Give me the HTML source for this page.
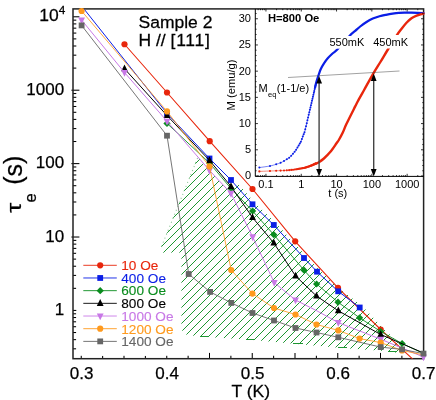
<!DOCTYPE html>
<html><head><meta charset="utf-8"><title>chart</title>
<style>html,body{margin:0;padding:0;background:#fff;}body{width:436px;height:400px;position:relative;overflow:hidden;font-family:"Liberation Sans",sans-serif;}</style></head>
<body>
<svg width="436" height="400" viewBox="0 0 436 400" style="position:absolute;left:0;top:0;will-change:transform;font-family:'Liberation Sans',sans-serif">
<rect x="0" y="0" width="436" height="400" fill="#fff"/>
<defs>
<clipPath id="pc"><rect x="73.0" y="8.9" width="350.6" height="349.8"/></clipPath>
</defs>
<line x1="73.0" y1="348.81" x2="76.3" y2="348.81" stroke="#000" stroke-width="1.05"/>
<line x1="73.0" y1="339.64" x2="76.3" y2="339.64" stroke="#000" stroke-width="1.05"/>
<line x1="73.0" y1="332.53" x2="76.3" y2="332.53" stroke="#000" stroke-width="1.05"/>
<line x1="73.0" y1="326.72" x2="76.3" y2="326.72" stroke="#000" stroke-width="1.05"/>
<line x1="73.0" y1="321.80" x2="76.3" y2="321.80" stroke="#000" stroke-width="1.05"/>
<line x1="73.0" y1="317.54" x2="76.3" y2="317.54" stroke="#000" stroke-width="1.05"/>
<line x1="73.0" y1="313.79" x2="76.3" y2="313.79" stroke="#000" stroke-width="1.05"/>
<line x1="73.0" y1="310.43" x2="79.4" y2="310.43" stroke="#000" stroke-width="1.05"/>
<line x1="73.0" y1="288.33" x2="76.3" y2="288.33" stroke="#000" stroke-width="1.05"/>
<line x1="73.0" y1="275.40" x2="76.3" y2="275.40" stroke="#000" stroke-width="1.05"/>
<line x1="73.0" y1="266.23" x2="76.3" y2="266.23" stroke="#000" stroke-width="1.05"/>
<line x1="73.0" y1="259.12" x2="76.3" y2="259.12" stroke="#000" stroke-width="1.05"/>
<line x1="73.0" y1="253.31" x2="76.3" y2="253.31" stroke="#000" stroke-width="1.05"/>
<line x1="73.0" y1="248.39" x2="76.3" y2="248.39" stroke="#000" stroke-width="1.05"/>
<line x1="73.0" y1="244.13" x2="76.3" y2="244.13" stroke="#000" stroke-width="1.05"/>
<line x1="73.0" y1="240.38" x2="76.3" y2="240.38" stroke="#000" stroke-width="1.05"/>
<line x1="71.4" y1="237.02" x2="79.4" y2="237.02" stroke="#000" stroke-width="1.05"/>
<line x1="73.0" y1="214.92" x2="76.3" y2="214.92" stroke="#000" stroke-width="1.05"/>
<line x1="73.0" y1="201.99" x2="76.3" y2="201.99" stroke="#000" stroke-width="1.05"/>
<line x1="73.0" y1="192.82" x2="76.3" y2="192.82" stroke="#000" stroke-width="1.05"/>
<line x1="73.0" y1="185.71" x2="76.3" y2="185.71" stroke="#000" stroke-width="1.05"/>
<line x1="73.0" y1="179.90" x2="76.3" y2="179.90" stroke="#000" stroke-width="1.05"/>
<line x1="73.0" y1="174.98" x2="76.3" y2="174.98" stroke="#000" stroke-width="1.05"/>
<line x1="73.0" y1="170.72" x2="76.3" y2="170.72" stroke="#000" stroke-width="1.05"/>
<line x1="73.0" y1="166.97" x2="76.3" y2="166.97" stroke="#000" stroke-width="1.05"/>
<line x1="71.4" y1="163.61" x2="79.4" y2="163.61" stroke="#000" stroke-width="1.05"/>
<line x1="73.0" y1="141.51" x2="76.3" y2="141.51" stroke="#000" stroke-width="1.05"/>
<line x1="73.0" y1="128.58" x2="76.3" y2="128.58" stroke="#000" stroke-width="1.05"/>
<line x1="73.0" y1="119.41" x2="76.3" y2="119.41" stroke="#000" stroke-width="1.05"/>
<line x1="73.0" y1="112.30" x2="76.3" y2="112.30" stroke="#000" stroke-width="1.05"/>
<line x1="73.0" y1="106.49" x2="76.3" y2="106.49" stroke="#000" stroke-width="1.05"/>
<line x1="73.0" y1="101.57" x2="76.3" y2="101.57" stroke="#000" stroke-width="1.05"/>
<line x1="73.0" y1="97.31" x2="76.3" y2="97.31" stroke="#000" stroke-width="1.05"/>
<line x1="73.0" y1="93.56" x2="76.3" y2="93.56" stroke="#000" stroke-width="1.05"/>
<line x1="71.4" y1="90.20" x2="79.4" y2="90.20" stroke="#000" stroke-width="1.05"/>
<line x1="73.0" y1="68.10" x2="76.3" y2="68.10" stroke="#000" stroke-width="1.05"/>
<line x1="73.0" y1="55.17" x2="76.3" y2="55.17" stroke="#000" stroke-width="1.05"/>
<line x1="73.0" y1="46.00" x2="76.3" y2="46.00" stroke="#000" stroke-width="1.05"/>
<line x1="73.0" y1="38.89" x2="76.3" y2="38.89" stroke="#000" stroke-width="1.05"/>
<line x1="73.0" y1="33.08" x2="76.3" y2="33.08" stroke="#000" stroke-width="1.05"/>
<line x1="73.0" y1="28.16" x2="76.3" y2="28.16" stroke="#000" stroke-width="1.05"/>
<line x1="73.0" y1="23.90" x2="76.3" y2="23.90" stroke="#000" stroke-width="1.05"/>
<line x1="73.0" y1="20.15" x2="76.3" y2="20.15" stroke="#000" stroke-width="1.05"/>
<line x1="73.0" y1="16.79" x2="79.4" y2="16.79" stroke="#000" stroke-width="1.05"/>
<line x1="81.25" y1="358.7" x2="81.25" y2="352.9" stroke="#000" stroke-width="1.05"/>
<line x1="102.63" y1="358.7" x2="102.63" y2="355.7" stroke="#000" stroke-width="1.05"/>
<line x1="124.00" y1="358.7" x2="124.00" y2="352.9" stroke="#000" stroke-width="1.05"/>
<line x1="145.38" y1="358.7" x2="145.38" y2="355.7" stroke="#000" stroke-width="1.05"/>
<line x1="166.75" y1="358.7" x2="166.75" y2="352.9" stroke="#000" stroke-width="1.05"/>
<line x1="188.12" y1="358.7" x2="188.12" y2="355.7" stroke="#000" stroke-width="1.05"/>
<line x1="209.50" y1="358.7" x2="209.50" y2="352.9" stroke="#000" stroke-width="1.05"/>
<line x1="230.88" y1="358.7" x2="230.88" y2="355.7" stroke="#000" stroke-width="1.05"/>
<line x1="252.25" y1="358.7" x2="252.25" y2="352.9" stroke="#000" stroke-width="1.05"/>
<line x1="273.62" y1="358.7" x2="273.62" y2="355.7" stroke="#000" stroke-width="1.05"/>
<line x1="295.00" y1="358.7" x2="295.00" y2="352.9" stroke="#000" stroke-width="1.05"/>
<line x1="316.38" y1="358.7" x2="316.38" y2="355.7" stroke="#000" stroke-width="1.05"/>
<line x1="337.75" y1="358.7" x2="337.75" y2="352.9" stroke="#000" stroke-width="1.05"/>
<line x1="359.12" y1="358.7" x2="359.12" y2="355.7" stroke="#000" stroke-width="1.05"/>
<line x1="380.50" y1="358.7" x2="380.50" y2="352.9" stroke="#000" stroke-width="1.05"/>
<line x1="401.88" y1="358.7" x2="401.88" y2="355.7" stroke="#000" stroke-width="1.05"/>
<line x1="423.25" y1="358.7" x2="423.25" y2="352.9" stroke="#000" stroke-width="1.05"/>
<rect x="73.0" y="8.9" width="350.6" height="349.8" fill="none" stroke="#222" stroke-width="1.5"/>
<clipPath id="hc1"><polygon points="198,157 158,255 163,300 181.9,330 186,334.5 199,336.4 250,339.7 297,344 342,348.1 392,351.5 397,353 402.5,347.3 382.7,327.5 361.7,305.5 340.2,289.3 319,269.7 306,256 275.8,223 254.5,202.3 236.5,182 231,193.4 209.5,170.4"/></clipPath>
<path clip-path="url(#hc1)" d="M-316,400 L84,0 M-308,400 L92,0 M-300,400 L100,0 M-292,400 L108,0 M-284,400 L116,0 M-276,400 L124,0 M-268,400 L132,0 M-260,400 L140,0 M-252,400 L148,0 M-244,400 L156,0 M-235,400 L165,0 M-227,400 L173,0 M-219,400 L181,0 M-211,400 L189,0 M-203,400 L197,0 M-195,400 L205,0 M-187,400 L213,0 M-179,400 L221,0 M-171,400 L229,0 M-163,400 L237,0 M-154,400 L246,0 M-146,400 L254,0 M-138,400 L262,0 M-130,400 L270,0 M-122,400 L278,0 M-114,400 L286,0 M-106,400 L294,0 M-98,400 L302,0 M-90,400 L310,0 M-81,400 L319,0 M-73,400 L327,0 M-65,400 L335,0 M-57,400 L343,0 M-49,400 L351,0 M-41,400 L359,0 M-33,400 L367,0 M-25,400 L375,0 M-17,400 L383,0 M-9,400 L391,0 M0,400 L400,0 M8,400 L408,0 M16,400 L416,0 M24,400 L424,0 M32,400 L432,0 M40,400 L440,0 M48,400 L448,0 M56,400 L456,0 M64,400 L464,0 M72,400 L472,0 M81,400 L481,0 M89,400 L489,0 M97,400 L497,0 M105,400 L505,0 M113,400 L513,0 M121,400 L521,0 M129,400 L529,0 M137,400 L537,0 M145,400 L545,0 M153,400 L553,0 M162,400 L562,0 M170,400 L570,0 M178,400 L578,0 M186,400 L586,0 M194,400 L594,0 M202,400 L602,0 M210,400 L610,0 M218,400 L618,0 M226,400 L626,0 M234,400 L634,0 M243,400 L643,0 M251,400 L651,0 M259,400 L659,0 M267,400 L667,0 M275,400 L675,0 M283,400 L683,0 M291,400 L691,0 M299,400 L699,0 M307,400 L707,0 M315,400 L715,0 M324,400 L724,0 M332,400 L732,0 M340,400 L740,0 M348,400 L748,0 M356,400 L756,0 M364,400 L764,0 M372,400 L772,0 M380,400 L780,0 M388,400 L788,0 M396,400 L796,0 M405,400 L805,0 M413,400 L813,0 M421,400 L821,0 M429,400 L829,0 M437,400 L837,0 M445,400 L845,0 M453,400 L853,0 M461,400 L861,0 M469,400 L869,0 M477,400 L877,0 M486,400 L886,0" stroke="#1e9632" stroke-width="1" fill="none" shape-rendering="crispEdges"/>
<path d="M197.6,158 L160.5,249" stroke="#1e9632" stroke-width="1.1" stroke-dasharray="1.1 3.2" opacity="0.5" fill="none"/>
<path d="M199.5,336.5 h9.5 M245.5,339.5 h9.5 M292.5,343.5 h10.5 M337.5,347.5 h9.5 M387.5,351.5 h9.5" stroke="#1e9632" stroke-width="1" fill="none" shape-rendering="crispEdges"/>
<rect x="76.3" y="252.6" width="105.1" height="103.2" fill="#fff"/>
<polyline clip-path="url(#pc)" fill="none" stroke="#e8260c" stroke-width="1.1" stroke-linejoin="round" points="124.50,44.25 167.00,92.50 209.70,141.20 252.50,189.00 295.20,241.30 338.00,287.80 380.70,329.50 412.20,358.60 420.00,366.00"/>
<circle cx="124.50" cy="44.25" r="3.1" fill="#e8260c"/>
<circle cx="167.00" cy="92.50" r="3.1" fill="#e8260c"/>
<circle cx="209.70" cy="141.20" r="3.1" fill="#e8260c"/>
<circle cx="252.50" cy="189.00" r="3.1" fill="#e8260c"/>
<circle cx="295.20" cy="241.30" r="3.1" fill="#e8260c"/>
<circle cx="338.00" cy="287.80" r="3.1" fill="#e8260c"/>
<circle cx="380.70" cy="329.50" r="3.1" fill="#e8260c"/>
<polyline clip-path="url(#pc)" fill="none" stroke="#0a1ee6" stroke-width="1.0" stroke-linejoin="round" points="81.25,5.50 167.00,113.40 209.50,158.50 231.00,180.00 252.50,204.30 273.80,225.00 304.00,258.00 317.00,271.70 338.20,291.30 359.70,307.50"/>
<rect x="164.10" y="110.50" width="5.8" height="5.8" fill="#0a1ee6"/>
<rect x="206.60" y="155.60" width="5.8" height="5.8" fill="#0a1ee6"/>
<rect x="228.10" y="177.10" width="5.8" height="5.8" fill="#0a1ee6"/>
<rect x="249.60" y="201.40" width="5.8" height="5.8" fill="#0a1ee6"/>
<rect x="270.90" y="222.10" width="5.8" height="5.8" fill="#0a1ee6"/>
<rect x="301.10" y="255.10" width="5.8" height="5.8" fill="#0a1ee6"/>
<rect x="314.10" y="268.80" width="5.8" height="5.8" fill="#0a1ee6"/>
<rect x="335.30" y="288.40" width="5.8" height="5.8" fill="#0a1ee6"/>
<rect x="356.80" y="304.60" width="5.8" height="5.8" fill="#0a1ee6"/>
<polyline clip-path="url(#pc)" fill="none" stroke="#0a8c1e" stroke-width="0.9" stroke-linejoin="round" points="167.00,123.40 209.50,163.00 231.00,188.50 252.60,211.00 273.80,234.70 304.00,270.20 316.60,284.00 338.00,302.20 359.60,317.80 380.70,331.50 402.10,343.50 423.50,353.50"/>
<polygon points="167.00,119.80 170.60,123.40 167.00,127.00 163.40,123.40" fill="#0a8c1e"/>
<polygon points="209.50,159.40 213.10,163.00 209.50,166.60 205.90,163.00" fill="#0a8c1e"/>
<polygon points="231.00,184.90 234.60,188.50 231.00,192.10 227.40,188.50" fill="#0a8c1e"/>
<polygon points="252.60,207.40 256.20,211.00 252.60,214.60 249.00,211.00" fill="#0a8c1e"/>
<polygon points="273.80,231.10 277.40,234.70 273.80,238.30 270.20,234.70" fill="#0a8c1e"/>
<polygon points="304.00,266.60 307.60,270.20 304.00,273.80 300.40,270.20" fill="#0a8c1e"/>
<polygon points="316.60,280.40 320.20,284.00 316.60,287.60 313.00,284.00" fill="#0a8c1e"/>
<polygon points="338.00,298.60 341.60,302.20 338.00,305.80 334.40,302.20" fill="#0a8c1e"/>
<polygon points="359.60,314.20 363.20,317.80 359.60,321.40 356.00,317.80" fill="#0a8c1e"/>
<polygon points="380.70,327.90 384.30,331.50 380.70,335.10 377.10,331.50" fill="#0a8c1e"/>
<polygon points="402.10,339.90 405.70,343.50 402.10,347.10 398.50,343.50" fill="#0a8c1e"/>
<polyline clip-path="url(#pc)" fill="none" stroke="#000" stroke-width="1.0" stroke-linejoin="round" points="124.50,68.75 167.00,115.50 209.50,160.40 231.00,186.40 252.50,217.50 273.80,243.00 295.60,276.00 316.50,296.00 338.30,310.80 380.70,334.50 423.50,353.00"/>
<polygon points="124.50,64.50 127.90,71.30 121.10,71.30" fill="#000"/>
<polygon points="167.00,111.25 170.40,118.05 163.60,118.05" fill="#000"/>
<polygon points="209.50,156.15 212.90,162.95 206.10,162.95" fill="#000"/>
<polygon points="231.00,182.15 234.40,188.95 227.60,188.95" fill="#000"/>
<polygon points="252.50,213.25 255.90,220.05 249.10,220.05" fill="#000"/>
<polygon points="273.80,238.75 277.20,245.55 270.40,245.55" fill="#000"/>
<polygon points="295.60,271.75 299.00,278.55 292.20,278.55" fill="#000"/>
<polygon points="316.50,291.75 319.90,298.55 313.10,298.55" fill="#000"/>
<polygon points="338.30,306.55 341.70,313.35 334.90,313.35" fill="#000"/>
<polygon points="380.70,330.25 384.10,337.05 377.30,337.05" fill="#000"/>
<polyline clip-path="url(#pc)" fill="none" stroke="#c878e6" stroke-width="1.0" stroke-linejoin="round" points="81.60,20.00 124.50,72.50 167.00,121.20 209.50,170.40 231.00,193.40 252.70,236.90 274.25,282.60 295.50,300.00 316.75,310.75 338.30,322.60 380.70,339.20 423.50,357.00"/>
<polygon points="81.60,24.25 85.00,17.45 78.20,17.45" fill="#c878e6"/>
<polygon points="124.50,76.75 127.90,69.95 121.10,69.95" fill="#c878e6"/>
<polygon points="167.00,125.45 170.40,118.65 163.60,118.65" fill="#c878e6"/>
<polygon points="209.50,174.65 212.90,167.85 206.10,167.85" fill="#c878e6"/>
<polygon points="231.00,197.65 234.40,190.85 227.60,190.85" fill="#c878e6"/>
<polygon points="252.70,241.15 256.10,234.35 249.30,234.35" fill="#c878e6"/>
<polygon points="274.25,286.85 277.65,280.05 270.85,280.05" fill="#c878e6"/>
<polygon points="295.50,304.25 298.90,297.45 292.10,297.45" fill="#c878e6"/>
<polygon points="338.30,326.85 341.70,320.05 334.90,320.05" fill="#c878e6"/>
<polygon points="380.70,343.45 384.10,336.65 377.30,336.65" fill="#c878e6"/>
<polygon points="423.50,361.25 426.90,354.45 420.10,354.45" fill="#c878e6"/>
<polyline clip-path="url(#pc)" fill="none" stroke="#ff9a1e" stroke-width="0.85" stroke-linejoin="round" points="81.60,11.00 167.00,111.40 209.50,166.40 231.20,270.00 252.40,293.60 274.00,308.00 295.50,314.50 316.50,324.50 338.30,330.40 359.60,338.60 380.70,342.60 402.00,350.40 423.50,355.00"/>
<circle cx="81.60" cy="11.00" r="3.1" fill="#ff9a1e"/>
<circle cx="167.00" cy="111.40" r="3.1" fill="#ff9a1e"/>
<circle cx="209.50" cy="166.40" r="3.1" fill="#ff9a1e"/>
<circle cx="231.20" cy="270.00" r="3.1" fill="#ff9a1e"/>
<circle cx="252.40" cy="293.60" r="3.1" fill="#ff9a1e"/>
<circle cx="274.00" cy="308.00" r="3.1" fill="#ff9a1e"/>
<circle cx="295.50" cy="314.50" r="3.1" fill="#ff9a1e"/>
<circle cx="316.50" cy="324.50" r="3.1" fill="#ff9a1e"/>
<circle cx="338.30" cy="330.40" r="3.1" fill="#ff9a1e"/>
<circle cx="359.60" cy="338.60" r="3.1" fill="#ff9a1e"/>
<circle cx="380.70" cy="342.60" r="3.1" fill="#ff9a1e"/>
<circle cx="402.00" cy="350.40" r="3.1" fill="#ff9a1e"/>
<polyline clip-path="url(#pc)" fill="none" stroke="#666" stroke-width="0.9" stroke-linejoin="round" points="81.60,25.40 167.00,135.70 188.70,274.00 210.10,291.90 231.30,302.90 252.50,313.00 274.00,320.50 295.50,328.00 316.50,332.50 338.30,337.30 380.70,347.10 402.10,349.40 423.50,353.60"/>
<rect x="78.70" y="22.50" width="5.8" height="5.8" fill="#666"/>
<rect x="164.10" y="132.80" width="5.8" height="5.8" fill="#666"/>
<rect x="185.80" y="271.10" width="5.8" height="5.8" fill="#666"/>
<rect x="207.20" y="289.00" width="5.8" height="5.8" fill="#666"/>
<rect x="228.40" y="300.00" width="5.8" height="5.8" fill="#666"/>
<rect x="249.60" y="310.10" width="5.8" height="5.8" fill="#666"/>
<rect x="271.10" y="317.60" width="5.8" height="5.8" fill="#666"/>
<rect x="292.60" y="325.10" width="5.8" height="5.8" fill="#666"/>
<rect x="313.60" y="329.60" width="5.8" height="5.8" fill="#666"/>
<rect x="335.40" y="334.40" width="5.8" height="5.8" fill="#666"/>
<rect x="377.80" y="344.20" width="5.8" height="5.8" fill="#666"/>
<rect x="399.20" y="346.50" width="5.8" height="5.8" fill="#666"/>
<rect x="420.60" y="350.70" width="5.8" height="5.8" fill="#666"/>
<path d="M259.20,167.60 C260.98,167.33 267.08,166.55 269.90,166.00 C272.72,165.45 274.32,164.83 276.10,164.30 C277.88,163.77 279.28,163.37 280.60,162.80 C281.92,162.23 283.02,161.47 284.00,160.90 C284.98,160.33 285.65,159.92 286.50,159.40 C287.35,158.88 288.32,158.38 289.10,157.80 C289.88,157.22 290.58,156.53 291.20,155.90 C291.82,155.27 292.22,154.70 292.80,154.00 C293.38,153.30 294.12,152.43 294.70,151.70 C295.28,150.97 295.25,151.32 296.30,149.60 C297.35,147.88 299.90,143.62 301.00,141.40 C302.10,139.18 302.27,137.98 302.90,136.30 C303.53,134.62 303.80,135.02 304.80,131.30 C305.80,127.58 307.28,120.88 308.90,114.00 C310.52,107.12 313.25,95.38 314.50,90.00 C315.75,84.62 315.70,84.25 316.40,81.70 C317.10,79.15 317.97,76.82 318.70,74.70 C319.43,72.58 319.92,70.88 320.80,69.00 C321.68,67.12 322.84,65.18 324.00,63.40 C325.16,61.62 326.28,59.98 327.75,58.30 C329.22,56.62 331.12,54.83 332.80,53.30 C334.48,51.77 335.02,52.00 337.80,49.10 C340.58,46.20 346.60,38.93 349.50,35.90 C352.40,32.87 353.42,32.47 355.20,30.90 C356.98,29.33 358.32,27.98 360.20,26.50 C362.08,25.02 364.40,23.32 366.50,22.00 C368.60,20.68 370.63,19.55 372.80,18.60 C374.97,17.65 377.30,16.93 379.50,16.30 C381.70,15.67 383.82,15.25 386.00,14.80 C388.18,14.35 390.45,13.93 392.60,13.60 C394.75,13.27 396.80,12.97 398.90,12.80 C401.00,12.63 403.10,12.63 405.20,12.60 C407.30,12.57 409.40,12.57 411.50,12.60 C413.60,12.63 415.80,12.72 417.80,12.80 C419.80,12.88 422.55,13.05 423.50,13.10" fill="none" stroke="#0a1ee6" stroke-width="0.55"/>
<path d="M315.11,87.33 C315.33,86.39 315.80,83.80 316.40,81.70 C317.00,79.60 317.97,76.82 318.70,74.70 C319.43,72.58 319.92,70.88 320.80,69.00 C321.68,67.12 322.84,65.18 324.00,63.40 C325.16,61.62 326.28,59.98 327.75,58.30 C329.22,56.62 331.12,54.83 332.80,53.30 C334.48,51.77 335.02,52.00 337.80,49.10 C340.58,46.20 346.60,38.93 349.50,35.90 C352.40,32.87 353.42,32.47 355.20,30.90 C356.98,29.33 358.32,27.98 360.20,26.50 C362.08,25.02 364.40,23.32 366.50,22.00 C368.60,20.68 370.63,19.55 372.80,18.60 C374.97,17.65 377.30,16.93 379.50,16.30 C381.70,15.67 383.82,15.25 386.00,14.80 C388.18,14.35 390.45,13.93 392.60,13.60 C394.75,13.27 396.80,12.97 398.90,12.80 C401.00,12.63 403.10,12.63 405.20,12.60 C407.30,12.57 409.40,12.57 411.50,12.60 C413.60,12.63 415.80,12.72 417.80,12.80 C419.80,12.88 422.55,13.05 423.50,13.10" fill="none" stroke="#0a1ee6" stroke-width="2.2" stroke-linecap="round"/>
<circle cx="259.35" cy="167.58" r="1.00" fill="#0a1ee6"/>
<circle cx="269.97" cy="165.98" r="1.00" fill="#0a1ee6"/>
<circle cx="276.19" cy="164.27" r="1.00" fill="#0a1ee6"/>
<circle cx="280.60" cy="162.80" r="1.00" fill="#0a1ee6"/>
<circle cx="284.02" cy="160.89" r="1.00" fill="#0a1ee6"/>
<circle cx="286.81" cy="159.21" r="1.00" fill="#0a1ee6"/>
<circle cx="289.18" cy="157.73" r="1.00" fill="#0a1ee6"/>
<circle cx="291.22" cy="155.87" r="1.00" fill="#0a1ee6"/>
<circle cx="293.03" cy="153.72" r="1.00" fill="#0a1ee6"/>
<circle cx="294.65" cy="151.77" r="1.00" fill="#0a1ee6"/>
<circle cx="296.11" cy="149.85" r="1.00" fill="#0a1ee6"/>
<circle cx="297.44" cy="147.61" r="1.00" fill="#0a1ee6"/>
<circle cx="298.67" cy="145.47" r="1.00" fill="#0a1ee6"/>
<circle cx="299.80" cy="143.49" r="1.00" fill="#0a1ee6"/>
<circle cx="300.86" cy="141.64" r="1.00" fill="#0a1ee6"/>
<circle cx="301.85" cy="139.11" r="1.00" fill="#0a1ee6"/>
<circle cx="302.78" cy="136.62" r="1.00" fill="#0a1ee6"/>
<circle cx="303.66" cy="134.31" r="1.00" fill="#0a1ee6"/>
<circle cx="304.49" cy="132.13" r="1.00" fill="#0a1ee6"/>
<circle cx="305.27" cy="129.31" r="1.00" fill="#0a1ee6"/>
<circle cx="306.02" cy="126.15" r="1.00" fill="#0a1ee6"/>
<circle cx="306.73" cy="123.14" r="1.00" fill="#0a1ee6"/>
<circle cx="307.41" cy="120.27" r="1.00" fill="#0a1ee6"/>
<circle cx="308.07" cy="117.51" r="1.00" fill="#0a1ee6"/>
<circle cx="308.69" cy="114.87" r="1.00" fill="#0a1ee6"/>
<circle cx="309.29" cy="112.31" r="1.00" fill="#0a1ee6"/>
<circle cx="309.87" cy="109.83" r="1.00" fill="#0a1ee6"/>
<circle cx="310.43" cy="107.44" r="1.00" fill="#0a1ee6"/>
<circle cx="310.97" cy="105.14" r="1.00" fill="#0a1ee6"/>
<circle cx="311.49" cy="102.91" r="1.00" fill="#0a1ee6"/>
<circle cx="311.99" cy="100.75" r="1.00" fill="#0a1ee6"/>
<circle cx="312.48" cy="98.67" r="1.00" fill="#0a1ee6"/>
<circle cx="312.95" cy="96.65" r="1.00" fill="#0a1ee6"/>
<circle cx="313.41" cy="94.68" r="1.00" fill="#0a1ee6"/>
<circle cx="313.85" cy="92.78" r="1.00" fill="#0a1ee6"/>
<circle cx="314.28" cy="90.93" r="1.00" fill="#0a1ee6"/>
<circle cx="314.70" cy="89.11" r="1.00" fill="#0a1ee6"/>
<circle cx="315.11" cy="87.33" r="1.00" fill="#0a1ee6"/>
<circle cx="315.51" cy="85.59" r="1.00" fill="#0a1ee6"/>
<circle cx="315.90" cy="83.89" r="1.00" fill="#0a1ee6"/>
<path d="M259.20,171.40 C260.98,171.33 265.35,171.17 269.90,171.00 C274.45,170.83 282.68,170.60 286.50,170.40 C290.32,170.20 290.68,170.07 292.80,169.80 C294.92,169.53 297.12,169.15 299.20,168.80 C301.28,168.45 303.28,168.23 305.30,167.70 C307.32,167.17 309.03,166.52 311.30,165.60 C313.57,164.68 316.80,163.38 318.90,162.20 C321.00,161.02 322.02,160.18 323.90,158.50 C325.78,156.82 328.10,154.63 330.20,152.10 C332.30,149.57 335.07,145.32 336.50,143.30 C337.93,141.28 337.75,141.78 338.80,140.00 C339.85,138.22 341.53,135.25 342.80,132.60 C344.07,129.95 344.33,128.47 346.40,124.10 C348.47,119.73 353.22,110.35 355.20,106.40 C357.18,102.45 356.82,103.13 358.30,100.40 C359.78,97.67 361.58,94.50 364.10,90.00 C366.62,85.50 370.68,78.07 373.40,73.40 C376.12,68.73 377.98,65.98 380.40,62.00 C382.82,58.02 385.23,53.85 387.90,49.50 C390.57,45.15 394.15,39.32 396.40,35.90 C398.65,32.48 399.72,31.20 401.40,29.00 C403.08,26.80 404.82,24.48 406.50,22.70 C408.18,20.92 409.82,19.47 411.50,18.30 C413.18,17.13 414.92,16.40 416.60,15.70 C418.28,15.00 420.45,14.45 421.60,14.10 C422.75,13.75 423.18,13.68 423.50,13.60" fill="none" stroke="#e8260c" stroke-width="0.55"/>
<path d="M315.11,163.89 C315.74,163.61 317.44,163.10 318.90,162.20 C320.36,161.30 322.02,160.18 323.90,158.50 C325.78,156.82 328.10,154.63 330.20,152.10 C332.30,149.57 335.07,145.32 336.50,143.30 C337.93,141.28 337.75,141.78 338.80,140.00 C339.85,138.22 341.53,135.25 342.80,132.60 C344.07,129.95 344.33,128.47 346.40,124.10 C348.47,119.73 353.22,110.35 355.20,106.40 C357.18,102.45 356.82,103.13 358.30,100.40 C359.78,97.67 361.58,94.50 364.10,90.00 C366.62,85.50 370.68,78.07 373.40,73.40 C376.12,68.73 377.98,65.98 380.40,62.00 C382.82,58.02 385.23,53.85 387.90,49.50 C390.57,45.15 394.15,39.32 396.40,35.90 C398.65,32.48 399.72,31.20 401.40,29.00 C403.08,26.80 404.82,24.48 406.50,22.70 C408.18,20.92 409.82,19.47 411.50,18.30 C413.18,17.13 414.92,16.40 416.60,15.70 C418.28,15.00 420.45,14.45 421.60,14.10 C422.75,13.75 423.18,13.68 423.50,13.60" fill="none" stroke="#e8260c" stroke-width="2.4" stroke-linecap="round"/>
<circle cx="259.35" cy="171.39" r="1.10" fill="#e8260c"/>
<circle cx="269.97" cy="171.00" r="1.10" fill="#e8260c"/>
<circle cx="276.19" cy="170.77" r="1.10" fill="#e8260c"/>
<circle cx="280.60" cy="170.61" r="1.10" fill="#e8260c"/>
<circle cx="284.02" cy="170.49" r="1.10" fill="#e8260c"/>
<circle cx="286.81" cy="170.37" r="1.10" fill="#e8260c"/>
<circle cx="289.18" cy="170.14" r="1.10" fill="#e8260c"/>
<circle cx="291.22" cy="169.95" r="1.10" fill="#e8260c"/>
<circle cx="293.03" cy="169.76" r="1.10" fill="#e8260c"/>
<circle cx="294.65" cy="169.51" r="1.10" fill="#e8260c"/>
<circle cx="296.11" cy="169.28" r="1.10" fill="#e8260c"/>
<circle cx="297.44" cy="169.07" r="1.10" fill="#e8260c"/>
<circle cx="298.67" cy="168.88" r="1.10" fill="#e8260c"/>
<circle cx="299.80" cy="168.69" r="1.10" fill="#e8260c"/>
<circle cx="300.86" cy="168.50" r="1.10" fill="#e8260c"/>
<circle cx="301.85" cy="168.32" r="1.10" fill="#e8260c"/>
<circle cx="302.78" cy="168.15" r="1.10" fill="#e8260c"/>
<circle cx="303.66" cy="168.00" r="1.10" fill="#e8260c"/>
<circle cx="304.49" cy="167.85" r="1.10" fill="#e8260c"/>
<circle cx="305.27" cy="167.71" r="1.10" fill="#e8260c"/>
<circle cx="306.02" cy="167.45" r="1.10" fill="#e8260c"/>
<circle cx="306.73" cy="167.20" r="1.10" fill="#e8260c"/>
<circle cx="307.41" cy="166.96" r="1.10" fill="#e8260c"/>
<circle cx="308.07" cy="166.73" r="1.10" fill="#e8260c"/>
<circle cx="308.69" cy="166.51" r="1.10" fill="#e8260c"/>
<circle cx="309.29" cy="166.30" r="1.10" fill="#e8260c"/>
<circle cx="309.87" cy="166.10" r="1.10" fill="#e8260c"/>
<circle cx="310.43" cy="165.90" r="1.10" fill="#e8260c"/>
<circle cx="310.97" cy="165.72" r="1.10" fill="#e8260c"/>
<circle cx="311.49" cy="165.52" r="1.10" fill="#e8260c"/>
<circle cx="311.99" cy="165.29" r="1.10" fill="#e8260c"/>
<circle cx="312.48" cy="165.07" r="1.10" fill="#e8260c"/>
<circle cx="312.95" cy="164.86" r="1.10" fill="#e8260c"/>
<circle cx="313.41" cy="164.66" r="1.10" fill="#e8260c"/>
<circle cx="313.85" cy="164.46" r="1.10" fill="#e8260c"/>
<circle cx="314.28" cy="164.27" r="1.10" fill="#e8260c"/>
<circle cx="314.70" cy="164.08" r="1.10" fill="#e8260c"/>
<circle cx="315.11" cy="163.89" r="1.10" fill="#e8260c"/>
<circle cx="315.51" cy="163.72" r="1.10" fill="#e8260c"/>
<circle cx="315.90" cy="163.54" r="1.10" fill="#e8260c"/>
<path d="M255.3,8.9 V176.4 H423.6" fill="none" stroke="#000" stroke-width="1"/>
<path d="M255.3,176.00 h2.6 M423.6,176.00 h-2.6" stroke="#000" stroke-width="0.8"/>
<path d="M255.3,170.76 h1.3 M423.6,170.76 h-1.3" stroke="#000" stroke-width="0.8"/>
<path d="M255.3,165.52 h1.3 M423.6,165.52 h-1.3" stroke="#000" stroke-width="0.8"/>
<path d="M255.3,160.27 h1.3 M423.6,160.27 h-1.3" stroke="#000" stroke-width="0.8"/>
<path d="M255.3,155.03 h1.3 M423.6,155.03 h-1.3" stroke="#000" stroke-width="0.8"/>
<path d="M255.3,149.79 h2.6 M423.6,149.79 h-2.6" stroke="#000" stroke-width="0.8"/>
<path d="M255.3,144.55 h1.3 M423.6,144.55 h-1.3" stroke="#000" stroke-width="0.8"/>
<path d="M255.3,139.31 h1.3 M423.6,139.31 h-1.3" stroke="#000" stroke-width="0.8"/>
<path d="M255.3,134.07 h1.3 M423.6,134.07 h-1.3" stroke="#000" stroke-width="0.8"/>
<path d="M255.3,128.82 h1.3 M423.6,128.82 h-1.3" stroke="#000" stroke-width="0.8"/>
<path d="M255.3,123.58 h2.6 M423.6,123.58 h-2.6" stroke="#000" stroke-width="0.8"/>
<path d="M255.3,118.34 h1.3 M423.6,118.34 h-1.3" stroke="#000" stroke-width="0.8"/>
<path d="M255.3,113.10 h1.3 M423.6,113.10 h-1.3" stroke="#000" stroke-width="0.8"/>
<path d="M255.3,107.86 h1.3 M423.6,107.86 h-1.3" stroke="#000" stroke-width="0.8"/>
<path d="M255.3,102.62 h1.3 M423.6,102.62 h-1.3" stroke="#000" stroke-width="0.8"/>
<path d="M255.3,97.37 h2.6 M423.6,97.37 h-2.6" stroke="#000" stroke-width="0.8"/>
<path d="M255.3,92.13 h1.3 M423.6,92.13 h-1.3" stroke="#000" stroke-width="0.8"/>
<path d="M255.3,86.89 h1.3 M423.6,86.89 h-1.3" stroke="#000" stroke-width="0.8"/>
<path d="M255.3,81.65 h1.3 M423.6,81.65 h-1.3" stroke="#000" stroke-width="0.8"/>
<path d="M255.3,76.41 h1.3 M423.6,76.41 h-1.3" stroke="#000" stroke-width="0.8"/>
<path d="M255.3,71.17 h2.6 M423.6,71.17 h-2.6" stroke="#000" stroke-width="0.8"/>
<path d="M255.3,65.92 h1.3 M423.6,65.92 h-1.3" stroke="#000" stroke-width="0.8"/>
<path d="M255.3,60.68 h1.3 M423.6,60.68 h-1.3" stroke="#000" stroke-width="0.8"/>
<path d="M255.3,55.44 h1.3 M423.6,55.44 h-1.3" stroke="#000" stroke-width="0.8"/>
<path d="M255.3,50.20 h1.3 M423.6,50.20 h-1.3" stroke="#000" stroke-width="0.8"/>
<path d="M255.3,44.96 h2.6 M423.6,44.96 h-2.6" stroke="#000" stroke-width="0.8"/>
<path d="M255.3,39.72 h1.3 M423.6,39.72 h-1.3" stroke="#000" stroke-width="0.8"/>
<path d="M255.3,34.47 h1.3 M423.6,34.47 h-1.3" stroke="#000" stroke-width="0.8"/>
<path d="M255.3,29.23 h1.3 M423.6,29.23 h-1.3" stroke="#000" stroke-width="0.8"/>
<path d="M255.3,23.99 h1.3 M423.6,23.99 h-1.3" stroke="#000" stroke-width="0.8"/>
<path d="M255.3,18.75 h2.6 M423.6,18.75 h-2.6" stroke="#000" stroke-width="0.8"/>
<path d="M255.3,13.51 h1.3 M423.6,13.51 h-1.3" stroke="#000" stroke-width="0.8"/>
<path d="M258.12,176.4 v-1.3 M258.12,8.9 v1.3" stroke="#000" stroke-width="0.8"/>
<path d="M260.48,176.4 v-1.3 M260.48,8.9 v1.3" stroke="#000" stroke-width="0.8"/>
<path d="M262.53,176.4 v-1.3 M262.53,8.9 v1.3" stroke="#000" stroke-width="0.8"/>
<path d="M264.33,176.4 v-1.3 M264.33,8.9 v1.3" stroke="#000" stroke-width="0.8"/>
<path d="M265.95,176.4 v-2.6 M265.95,8.9 v2.6" stroke="#000" stroke-width="0.8"/>
<path d="M276.58,176.4 v-1.3 M276.58,8.9 v1.3" stroke="#000" stroke-width="0.8"/>
<path d="M282.79,176.4 v-1.3 M282.79,8.9 v1.3" stroke="#000" stroke-width="0.8"/>
<path d="M287.20,176.4 v-1.3 M287.20,8.9 v1.3" stroke="#000" stroke-width="0.8"/>
<path d="M290.62,176.4 v-1.3 M290.62,8.9 v1.3" stroke="#000" stroke-width="0.8"/>
<path d="M293.42,176.4 v-1.3 M293.42,8.9 v1.3" stroke="#000" stroke-width="0.8"/>
<path d="M295.78,176.4 v-1.3 M295.78,8.9 v1.3" stroke="#000" stroke-width="0.8"/>
<path d="M297.83,176.4 v-1.3 M297.83,8.9 v1.3" stroke="#000" stroke-width="0.8"/>
<path d="M299.63,176.4 v-1.3 M299.63,8.9 v1.3" stroke="#000" stroke-width="0.8"/>
<path d="M301.25,176.4 v-2.6 M301.25,8.9 v2.6" stroke="#000" stroke-width="0.8"/>
<path d="M311.88,176.4 v-1.3 M311.88,8.9 v1.3" stroke="#000" stroke-width="0.8"/>
<path d="M318.09,176.4 v-1.3 M318.09,8.9 v1.3" stroke="#000" stroke-width="0.8"/>
<path d="M322.50,176.4 v-1.3 M322.50,8.9 v1.3" stroke="#000" stroke-width="0.8"/>
<path d="M325.92,176.4 v-1.3 M325.92,8.9 v1.3" stroke="#000" stroke-width="0.8"/>
<path d="M328.72,176.4 v-1.3 M328.72,8.9 v1.3" stroke="#000" stroke-width="0.8"/>
<path d="M331.08,176.4 v-1.3 M331.08,8.9 v1.3" stroke="#000" stroke-width="0.8"/>
<path d="M333.13,176.4 v-1.3 M333.13,8.9 v1.3" stroke="#000" stroke-width="0.8"/>
<path d="M334.93,176.4 v-1.3 M334.93,8.9 v1.3" stroke="#000" stroke-width="0.8"/>
<path d="M336.55,176.4 v-2.6 M336.55,8.9 v2.6" stroke="#000" stroke-width="0.8"/>
<path d="M347.18,176.4 v-1.3 M347.18,8.9 v1.3" stroke="#000" stroke-width="0.8"/>
<path d="M353.39,176.4 v-1.3 M353.39,8.9 v1.3" stroke="#000" stroke-width="0.8"/>
<path d="M357.80,176.4 v-1.3 M357.80,8.9 v1.3" stroke="#000" stroke-width="0.8"/>
<path d="M361.22,176.4 v-1.3 M361.22,8.9 v1.3" stroke="#000" stroke-width="0.8"/>
<path d="M364.02,176.4 v-1.3 M364.02,8.9 v1.3" stroke="#000" stroke-width="0.8"/>
<path d="M366.38,176.4 v-1.3 M366.38,8.9 v1.3" stroke="#000" stroke-width="0.8"/>
<path d="M368.43,176.4 v-1.3 M368.43,8.9 v1.3" stroke="#000" stroke-width="0.8"/>
<path d="M370.23,176.4 v-1.3 M370.23,8.9 v1.3" stroke="#000" stroke-width="0.8"/>
<path d="M371.85,176.4 v-2.6 M371.85,8.9 v2.6" stroke="#000" stroke-width="0.8"/>
<path d="M382.48,176.4 v-1.3 M382.48,8.9 v1.3" stroke="#000" stroke-width="0.8"/>
<path d="M388.69,176.4 v-1.3 M388.69,8.9 v1.3" stroke="#000" stroke-width="0.8"/>
<path d="M393.10,176.4 v-1.3 M393.10,8.9 v1.3" stroke="#000" stroke-width="0.8"/>
<path d="M396.52,176.4 v-1.3 M396.52,8.9 v1.3" stroke="#000" stroke-width="0.8"/>
<path d="M399.32,176.4 v-1.3 M399.32,8.9 v1.3" stroke="#000" stroke-width="0.8"/>
<path d="M401.68,176.4 v-1.3 M401.68,8.9 v1.3" stroke="#000" stroke-width="0.8"/>
<path d="M403.73,176.4 v-1.3 M403.73,8.9 v1.3" stroke="#000" stroke-width="0.8"/>
<path d="M405.53,176.4 v-1.3 M405.53,8.9 v1.3" stroke="#000" stroke-width="0.8"/>
<path d="M407.15,176.4 v-2.6 M407.15,8.9 v2.6" stroke="#000" stroke-width="0.8"/>
<path d="M417.78,176.4 v-1.3 M417.78,8.9 v1.3" stroke="#000" stroke-width="0.8"/>
<text x="251" y="179.40" font-size="11" text-anchor="end">0</text>
<text x="251" y="153.19" font-size="11" text-anchor="end">5</text>
<text x="251" y="126.98" font-size="11" text-anchor="end">10</text>
<text x="251" y="100.77" font-size="11" text-anchor="end">15</text>
<text x="251" y="74.57" font-size="11" text-anchor="end">20</text>
<text x="251" y="48.36" font-size="11" text-anchor="end">25</text>
<text x="251" y="22.15" font-size="11" text-anchor="end">30</text>
<text x="265.95" y="187.7" font-size="11" text-anchor="middle">0.1</text>
<text x="301.25" y="187.7" font-size="11" text-anchor="middle">1</text>
<text x="336.55" y="187.7" font-size="11" text-anchor="middle">10</text>
<text x="371.85" y="187.7" font-size="11" text-anchor="middle">100</text>
<text x="407.15" y="187.7" font-size="11" text-anchor="middle">1000</text>
<text x="337.8" y="196.8" font-size="11" text-anchor="middle">t (s)</text>
<text transform="translate(234.9,85.0) rotate(-90)" font-size="11.2" text-anchor="middle">M (emu/g)</text>
<text x="268" y="21.8" font-size="11.2" font-weight="bold">H=800 Oe</text>
<rect x="328.5" y="36" width="37" height="12.7" fill="#fff"/><text x="329.4" y="45.5" font-size="11">550mK</text>
<rect x="372.5" y="35" width="37" height="13.5" fill="#fff"/><text x="373.25" y="45.5" font-size="11">450mK</text>
<text x="258.4" y="91.6" font-size="11">M<tspan font-size="7.5" dy="5.2" dx="0.5">eq</tspan><tspan dy="-5.2" dx="0.3">(1-1/e)</tspan></text>
<line x1="288" y1="77.5" x2="399.5" y2="71" stroke="#444" stroke-width="0.5"/>
<line x1="319.1" y1="78.9" x2="319.1" y2="173.4" stroke="#444" stroke-width="1.4"/>
<polygon points="319.1,75.9 322.0,83.4 316.20000000000005,83.4" fill="#000"/>
<polygon points="319.1,176.4 322.0,168.9 316.20000000000005,168.9" fill="#000"/>
<line x1="373.7" y1="76.6" x2="373.7" y2="173.4" stroke="#444" stroke-width="1.4"/>
<polygon points="373.7,73.6 376.59999999999997,81.1 370.8,81.1" fill="#000"/>
<polygon points="373.7,176.4 376.59999999999997,168.9 370.8,168.9" fill="#000"/>
<text transform="translate(64.20,94.80)" font-size="17" text-anchor="end" fill="#000" stroke="#000" stroke-width="0.25">1000</text>
<text transform="translate(64.20,168.21)" font-size="17" text-anchor="end" fill="#000" stroke="#000" stroke-width="0.25">100</text>
<text transform="translate(64.20,241.62)" font-size="17" text-anchor="end" fill="#000" stroke="#000" stroke-width="0.25">10</text>
<text transform="translate(64.20,315.03)" font-size="17" text-anchor="end" fill="#000" stroke="#000" stroke-width="0.25">1</text>
<text transform="translate(39.20,21.20) scale(1.03,1)" font-size="17" text-anchor="start" fill="#000" stroke="#000" stroke-width="0.25">10<tspan font-size="11.5" dy="-7.6">4</tspan></text>
<text transform="translate(81.55,379.30)" font-size="17" text-anchor="middle" fill="#000" stroke="#000" stroke-width="0.25">0.3</text>
<text transform="translate(167.05,379.30)" font-size="17" text-anchor="middle" fill="#000" stroke="#000" stroke-width="0.25">0.4</text>
<text transform="translate(252.55,379.30)" font-size="17" text-anchor="middle" fill="#000" stroke="#000" stroke-width="0.25">0.5</text>
<text transform="translate(338.05,379.30)" font-size="17" text-anchor="middle" fill="#000" stroke="#000" stroke-width="0.25">0.6</text>
<text transform="translate(423.55,379.30)" font-size="17" text-anchor="middle" fill="#000" stroke="#000" stroke-width="0.25">0.7</text>
<text transform="translate(250.80,396.50) scale(1.03,1)" font-size="17" text-anchor="middle" fill="#000" stroke="#000" stroke-width="0.25">T (K)</text>
<text transform="translate(21.30,212.80) rotate(-90) scale(1.3,1)" font-size="19.5" text-anchor="start" fill="#000" stroke="#000" stroke-width="0.25">τ</text>
<text transform="translate(36.10,202.60) rotate(-90)" font-size="16.5" text-anchor="start" fill="#000" stroke="#000" stroke-width="0.25">e</text>
<text transform="translate(22.20,184.80) rotate(-90)" font-size="25" text-anchor="start" fill="#000" stroke="#000" stroke-width="0.25">(s)</text>
<text transform="translate(138.50,28.00) scale(1.03,1)" font-size="17" text-anchor="start" fill="#000" stroke="#000" stroke-width="0.25">Sample 2</text>
<text transform="translate(138.50,46.20) scale(1.03,1)" font-size="17" text-anchor="start" fill="#000" stroke="#000" stroke-width="0.25">H // <tspan letter-spacing="0.7">[111]</tspan></text>
<line x1="83.3" y1="265.30" x2="116.8" y2="265.30" stroke="#e8260c" stroke-width="0.9"/>
<circle cx="100.20" cy="265.30" r="3.1" fill="#e8260c"/>
<text transform="translate(121.30,270.10) scale(1.01,1)" font-size="13.5" text-anchor="start" fill="#e8260c" stroke="#e8260c" stroke-width="0.12">10 Oe</text>
<line x1="83.3" y1="277.98" x2="116.8" y2="277.98" stroke="#0a1ee6" stroke-width="0.9"/>
<rect x="97.30" y="275.08" width="5.8" height="5.8" fill="#0a1ee6"/>
<text transform="translate(121.30,282.78) scale(1.01,1)" font-size="13.5" text-anchor="start" fill="#0a1ee6" stroke="#0a1ee6" stroke-width="0.12">400 Oe</text>
<line x1="83.3" y1="290.66" x2="116.8" y2="290.66" stroke="#0a8c1e" stroke-width="0.9"/>
<polygon points="100.20,287.06 103.80,290.66 100.20,294.26 96.60,290.66" fill="#0a8c1e"/>
<text transform="translate(121.30,295.46) scale(1.01,1)" font-size="13.5" text-anchor="start" fill="#0a8c1e" stroke="#0a8c1e" stroke-width="0.12">600 Oe</text>
<line x1="83.3" y1="303.34" x2="116.8" y2="303.34" stroke="#000" stroke-width="0.9"/>
<polygon points="100.20,299.09 103.60,305.89 96.80,305.89" fill="#000"/>
<text transform="translate(121.30,308.14) scale(1.01,1)" font-size="13.5" text-anchor="start" fill="#000" stroke="#000" stroke-width="0.12">800 Oe</text>
<line x1="83.3" y1="316.02" x2="116.8" y2="316.02" stroke="#c878e6" stroke-width="0.9"/>
<polygon points="100.20,320.27 103.60,313.47 96.80,313.47" fill="#c878e6"/>
<text transform="translate(121.30,320.82) scale(1.01,1)" font-size="13.5" text-anchor="start" fill="#c878e6" stroke="#c878e6" stroke-width="0.12">1000 Oe</text>
<line x1="83.3" y1="328.70" x2="116.8" y2="328.70" stroke="#ff9a1e" stroke-width="0.9"/>
<circle cx="100.20" cy="328.70" r="3.1" fill="#ff9a1e"/>
<text transform="translate(121.30,333.50) scale(1.01,1)" font-size="13.5" text-anchor="start" fill="#ff9a1e" stroke="#ff9a1e" stroke-width="0.12">1200 Oe</text>
<line x1="83.3" y1="341.38" x2="116.8" y2="341.38" stroke="#666" stroke-width="0.9"/>
<rect x="97.30" y="338.48" width="5.8" height="5.8" fill="#666"/>
<text transform="translate(121.30,346.18) scale(1.01,1)" font-size="13.5" text-anchor="start" fill="#666" stroke="#666" stroke-width="0.12">1400 Oe</text>
</svg>
</body></html>
